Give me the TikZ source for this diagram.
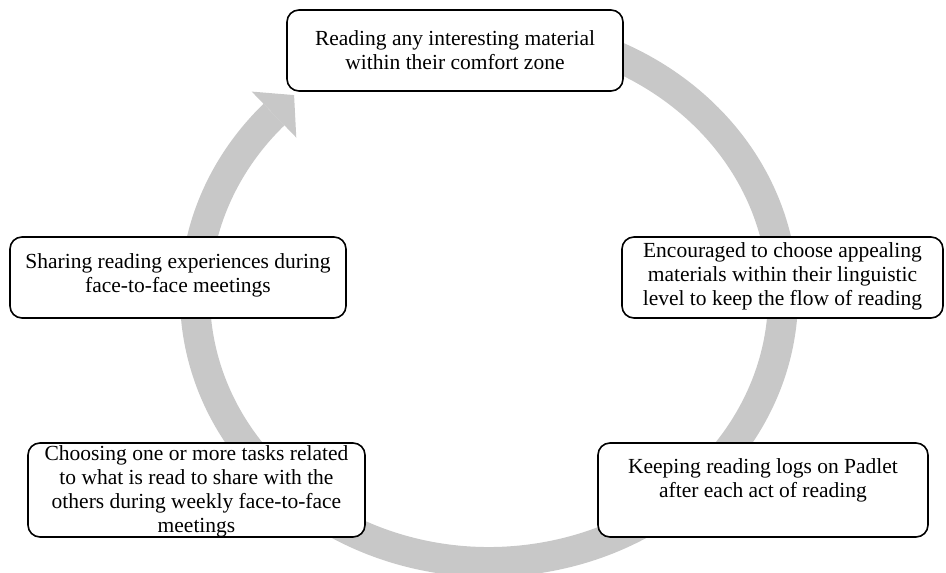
\documentclass[tikz,border=0pt]{standalone}
\usepackage{fontspec}
\setmainfont{Liberation Serif}
\usetikzlibrary{calc}
\definecolor{ringgray}{RGB}{200,200,200}
\tikzset{
  stepbox/.style={draw=black, line width=1.6pt, rounded corners=12pt, fill=white, inner sep=0pt},
  steptext/.style={align=center, inner sep=0pt, font=\fontsize{21.5}{24}\selectfont},
}
\begin{document}
\begin{tikzpicture}[x=1pt,y=1pt]
\useasboundingbox (0,0) rectangle (946,573);
% ring
\coordinate (C) at (489,277);
\draw[ringgray, line width=30pt] (C) ++(100:294 and 266) arc[start angle=100, end angle=-223, x radius=294, y radius=266];
\coordinate (B) at ($(C)+(137:294 and 266)$);
\coordinate (H1) at ($(B)+(-22.3,23)$);
\coordinate (H2) at ($(B)+(22.3,-23)$);
\coordinate (HT) at ($(B)+(20.1,19.5)$);
\fill[ringgray] (H1) -- (HT) -- (H2) -- cycle;
% boxes
\node[stepbox, minimum width=336, minimum height=81] (b1) at (455,522.5) {};
\node[stepbox, minimum width=321, minimum height=81] (b2) at (782.5,295.5) {};
\node[stepbox, minimum width=330, minimum height=94] (b3) at (763,83) {};
\node[stepbox, minimum width=337, minimum height=94] (b4) at (196.5,83) {};
\node[stepbox, minimum width=336, minimum height=81] (b5) at (178,295.5) {};
% texts
\node[steptext] (t1) at (455,523) {Reading any interesting material\\within their comfort zone};
\node[steptext] (t2) at (782.5,297) {Encouraged to choose appealing\\materials within their linguistic\\level to keep the flow of reading};
\node[steptext] (t3) at (763,92.5) {Keeping reading logs on Padlet\\after each act of reading};
\node[steptext] (t4) at (196.5,82) {Choosing one or more tasks related\\to what is read to share with the\\others during weekly face-to-face\\meetings};
\node[steptext] (t5) at (178,298) {Sharing reading experiences during\\face-to-face meetings};
\end{tikzpicture}
\end{document}
